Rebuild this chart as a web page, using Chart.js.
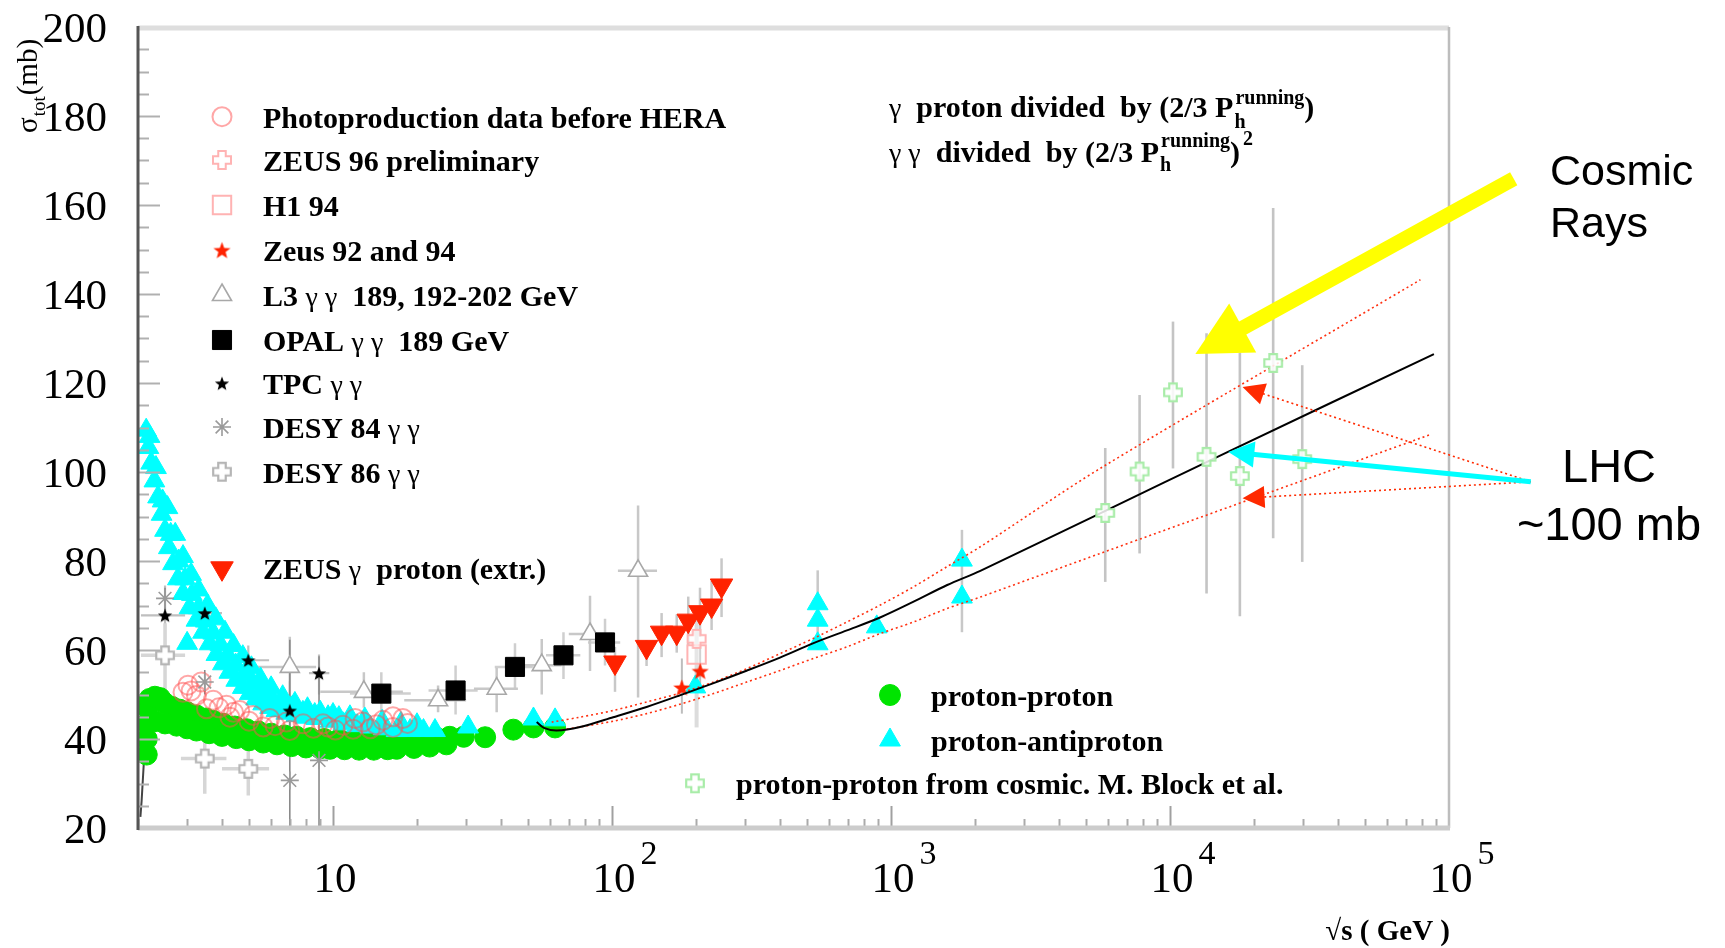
<!DOCTYPE html>
<html><head><meta charset="utf-8">
<script src="https://cdn.jsdelivr.net/npm/chart.js@4.4.1/dist/chart.umd.min.js"></script>
<style>html,body{margin:0;padding:0;background:#fff;}canvas{display:block;}</style>
</head><body>
<canvas id="c" width="1725" height="948"></canvas>
<script>
// ---------------- DATA ----------------
// proton-proton (green)
const ppX = [2.15,2.15,2.15,2.16,2.2,2.3,2.4,2.5,
  2.65,2.82,3.0,3.24,3.5,3.72,4.05,4.45,4.9,5.4,6.0,6.7,7.4,8.3,9.3,10.5,11.8,13.2,14.8,16.6,18.6,20.8,23.3,26.2,29.4,
  2.3,2.5,2.75,3.0,3.24,3.6,4.0,4.5,5.0,5.62,6.3,7.1,8.0,9.0,9.75,11,12.4,14,15.7,16.9,19.5,22.2,25.5,
  35.1,44.3,52.3,62.5];
const ppY = [36.5,40,43.5,47,49,49.5,49.2,48,
  47.2,46.6,46,45.3,44.6,44.1,43.4,42.8,42.2,41.7,41.2,40.8,40.5,40.2,40,39.9,39.9,39.9,40,40.1,40.2,40.3,40.4,40.5,40.5,
  44,43.5,43,42.4,41.9,41.3,40.7,40.2,39.7,39.2,38.8,38.4,38.1,37.9,37.8,37.7,37.6,37.6,37.7,37.8,38,38.3,38.8,
  40.4,42.1,42.6,42.6];
// proton-antiproton (cyan)
const pbarpX = [2.14,2.18,2.23,2.29,2.36,2.43,2.5,2.58,2.67,2.78,2.9,3.06,3.24,3.42,3.61,3.82,4.03,4.25,4.5,4.75,5.03,5.3,5.62,5.95,6.27,6.8,7.39,8.0,8.72,9.8,10.9,12.2,13.6,15.2,16.9,18.9,21.1,23.2,30.5,52.3,62.5,
  2.2,2.32,2.45,2.62,2.8,2.95,3.12,3.3,3.5,3.72,3.95,4.2,4.48,4.8,5.15,5.55,6.0,6.5,7.1,7.8,8.6,9.6,10.5,3.0,
  2.55,2.72,2.9,3.1,3.3,3.55,3.8,4.1,4.4,4.75,5.1,5.5,6.0,6.6,7.3,8.1,9.0,10,11.5,13,15,17.5,20,
  199,546,546,546,889,1796,1796];
const pbarpY = [109.4,105.5,102,98,94.4,90.5,86.9,83,79.4,76,72.7,69.5,66.7,64,61.4,59,56.9,55,53.2,51.6,50.2,49,47.9,47.1,46.4,45.8,45.3,44.9,44.6,44,43.4,43,42.7,42.3,41.9,41.9,41.9,41.9,42.7,44.5,44.3,
  108,101,93.5,86,80,76,72.5,69.5,66.5,63.8,61.2,58.8,56.6,54.5,52.6,51,49.5,48.2,47,46,45.5,45,44.8,61.5,
  92,86,81,77,73.5,70,67,64,61,58.5,56,53.5,51.5,49.5,48,46.8,46,45.5,45,44.5,44,43.5,43.2,
  51.7,70.4,66.7,61.4,65.2,80.2,71.9];
const pbarpYLo = pbarpX.map(()=>null); const pbarpYHi = pbarpX.map(()=>null);
pbarpYLo[pbarpX.length-6]=60; pbarpYHi[pbarpX.length-6]=77.9;
pbarpYLo[pbarpX.length-2]=64; pbarpYHi[pbarpX.length-2]=87;
// Photoproduction data before HERA
const photoX = [3.02,3.37,3.24,3.72,4.15,4.63,5.17,5.93,6.81,7.82,9.21,10.86,12.8,15.1,17.8,3.52,4.27,5.62,7.0,9.6,13.6,2.9,16.4,11.8,
  3.1,3.9,4.4,5.0,6.2,8.5,10.2,12.0,14.3,16.4,18.5];
const photoY = [52.1,52.8,49.8,48.7,47.6,46.4,45.3,44.6,43.8,43.4,43.4,43.1,43.8,44.2,44.6,46.8,44.9,42.7,41.9,42.7,42.3,50.5,42.6,42.2,
  50.8,47,46,44,43,42.4,42,44.6,43.2,45,43.5];
// ZEUS 96 preliminary, H1 94, Zeus 92 and 94
const zeus96X = [201], zeus96Y = [62.5];
const h1X = [201], h1Y = [59], h1YLo = [42.6], h1YHi = [66.7];
const zeus9294X = [178,207], zeus9294Y = [51.6,55.3], zeus9294YLo = [45.7,51], zeus9294YHi = [58.1,61];
// L3 gamma gamma
const l3X = [7.0,12.9,23.8,38.6,56,83.4,124];
const l3Y = [56.2,50.6,48.7,51.3,56.6,63.6,77.8];
const l3YLo = [48,47,46,46,50,55.3,49.3], l3YHi = [63,55,52,56,62.5,72.2,92.5];
const l3XLo = [5.3,9.0,18,32,47,70,105], l3XHi = [8.7,17.8,30,46,66,100,145];
// OPAL gamma gamma 189 GeV
const opalX = [14.9,27.5,44.9,67,94.4], opalY = [50.2,50.9,56.2,58.8,61.7];
const opalYLo = [45.5,45.5,51,53.5,56.5], opalYHi = [55,56.5,61.5,64,67];
const opalXLo = [11.5,22,38,58,82], opalXHi = [19,33,52,77,107];
// TPC gamma gamma
const tpcX = [2.5,3.47,4.97,7.0,8.91], tpcY = [67.8,68.3,57.7,46.4,54.8];
const tpcYLo = [61,66,55,40,50], tpcYHi = [74.5,71,61,53,59];
const tpcXLo = [2.05,2.85,4.0,6.2,8.2], tpcXHi = [2.95,4.0,5.9,7.9,9.7];
// DESY 84 / DESY 86 gamma gamma
const desy84X = [2.5,3.47,7.0,8.91], desy84Y = [71.6,52.8,30.7,35.2];
const desy84YLo = [69,50,20,20], desy84YHi = [74,55.5,62.3,58.6];
const desy86X = [2.5,3.47,4.97], desy86Y = [58.8,35.6,33.3];
const desy86YLo = [50.5,27.7,27.3], desy86YHi = [66,41.2,40.4];
const desy86XLo = [2.05,2.85,4.0], desy86XHi = [2.95,4.15,5.9];
// ZEUS gamma proton (extr.)
const zeusExtX = [102.5,133,150.6,170.6,187.6,206.7,227.5,247];
const zeusExtY = [57.2,60.7,63.9,63.9,66.6,68.5,70,74.5];
const zeusExtYLo = [50.6,56.4,58.4,59.4,61,63,64.5,67.4], zeusExtYHi = [60.7,62.2,68.3,68,72,74,75.5,80.6];
// proton-proton from cosmic rays (M. Block et al.)
const cosmicX = [5860,7780,10250,13520,17800,23430,29780];
const cosmicY = [90.8,100.1,117.9,103.4,99.1,124.5,102.9];
const cosmicYLo = [75.3,81.7,100.8,72.7,67.6,85.1,79.8], cosmicYHi = [105.4,117.3,133.8,131.2,126.8,159.3,124];
// fit curves
const fitX = [53.7,57,63.4,76.8,101,133,175,230,305,400,525,695,914,1200,1590,2090,5620,16200,88300];
const fitY = [43.8,42.5,41.9,42.7,44.9,47.2,49.8,52.5,55.4,58.3,61.5,64.4,67.3,70.8,74.6,77.8,90.7,104.6,126.5];
const upperX = [60.8,76.7,101,133,175,231,304,401,527,695,915,1205,1585,2090,5620,79000];
const upperY = [43.8,44.9,46.4,48.3,50.3,52.8,55.8,59.2,62.6,66.3,70.1,74.2,78.7,83.2,100.8,143.2];
const lowerX = [63.4,76.7,101,133,175,231,304,401,527,695,915,1205,1585,2090,5620,86500];
const lowerY = [41.9,42.7,44.0,45.7,47.8,50.2,52.8,55.4,58.1,60.7,63.7,66.3,69.3,71.9,81.7,108.5];
const lowFitX = [2.04,2.06,2.08,2.1], lowFitY = [22.5,26,30.5,35];
// axis ticks
const yTickValues = [20,40,60,80,100,120,140,160,180,200];
const yTickLabels = ['20','40','60','80','100','120','140','160','180','200'];
const xTickValues = [10,100,1000,10000,100000];
const xTickBase = ['10','10','10','10','10'];
const xTickExp = ['','2','3','4','5'];

// ---------------- helpers ----------------
const SERIF = '"Liberation Serif","Times New Roman",serif';
const SANS = '"Liberation Sans",Arial,sans-serif';
const pts = (xs, ys) => xs.map((x,i)=>({x, y: ys[i]}));
function makeCanvas(size, draw){ const c=document.createElement('canvas'); c.width=size; c.height=size; draw(c.getContext('2d'), size); return c; }
function hollowCross(size, color, lw, fill){
  return makeCanvas(size,(g,s)=>{ const m=s/2, a=s*0.17, r=s/2-lw;
    g.beginPath(); g.moveTo(m-a,m-r); g.lineTo(m+a,m-r); g.lineTo(m+a,m-a); g.lineTo(m+r,m-a); g.lineTo(m+r,m+a);
    g.lineTo(m+a,m+a); g.lineTo(m+a,m+r); g.lineTo(m-a,m+r); g.lineTo(m-a,m+a); g.lineTo(m-r,m+a); g.lineTo(m-r,m-a); g.lineTo(m-a,m-a); g.closePath();
    if(fill){ g.fillStyle=fill; g.fill(); } g.strokeStyle=color; g.lineWidth=lw; g.stroke(); });
}
function star5(size, color){
  return makeCanvas(size,(g,s)=>{ const m=s/2, R=s/2-0.5, r=R*0.42; g.fillStyle=color; g.beginPath();
    for(let k=0;k<10;k++){ const an=-Math.PI/2+k*Math.PI/5, rr=k%2?r:R; g.lineTo(m+rr*Math.cos(an), m+rr*Math.sin(an)+s*0.05); }
    g.closePath(); g.fill(); });
}
const styleZeus96 = hollowCross(22,'#ffb3b3',2,'rgba(255,255,255,0.6)');
const styleDesy86 = hollowCross(22,'#b5b5b5',2.2,'#ffffff');
const styleCosmic = hollowCross(22,'#a8eca8',2.2,'rgba(255,255,255,0.85)');
const styleTPC = star5(16,'#000000');
const styleZstar = star5(19,'#ff2200');

function scatterSet(label, data, o){ return Object.assign({label, data, showLine:false, pointRadius:8, pointHoverRadius:0, pointBorderWidth:1}, o); }
function lineSet(label, data, o){ return Object.assign({label, data, showLine:true, pointRadius:0, pointHoverRadius:0, fill:false, tension:0.3}, o); }

const datasets = [
  scatterSet('proton-proton from cosmic. M. Block et al.', pts(cosmicX,cosmicY), {pointStyle:styleCosmic, order:1,
    errorBars:{yLo:cosmicYLo,yHi:cosmicYHi,color:'#c4c4c4',width:2.6}}),
  lineSet('fit', pts(fitX,fitY), {borderColor:'#000', borderWidth:2, order:2}),
  lineSet('upper', pts(upperX,upperY), {borderColor:'#ff3010', borderWidth:1.6, borderDash:[2,3], order:3}),
  lineSet('lower', pts(lowerX,lowerY), {borderColor:'#ff3010', borderWidth:1.6, borderDash:[2,3], order:4}),
  scatterSet('ZEUS γ  proton (extr.)', pts(zeusExtX,zeusExtY), {pointStyle:'triangle', pointRotation:180, pointRadius:13,
    pointBackgroundColor:'#ff2200', pointBorderColor:'#ff2200', order:5, errorBars:{yLo:zeusExtYLo,yHi:zeusExtYHi,color:'#c8c8c8',width:2.5}}),
  scatterSet('Zeus 92 and 94', pts(zeus9294X,zeus9294Y), {pointStyle:styleZstar, order:6, errorBars:{yLo:zeus9294YLo,yHi:zeus9294YHi,color:'#bdbdbd',width:2}}),
  scatterSet('ZEUS 96 preliminary', pts(zeus96X,zeus96Y), {pointStyle:styleZeus96, order:7}),
  scatterSet('H1 94', pts(h1X,h1Y), {pointStyle:'rect', pointRadius:13, pointBackgroundColor:'rgba(255,255,255,0.3)', pointBorderColor:'#ffb3b3', pointBorderWidth:2, order:8,
    errorBars:{yLo:h1YLo,yHi:h1YHi,color:'#dcdcdc',width:4}}),
  scatterSet('TPC γ γ', pts(tpcX,tpcY), {pointStyle:styleTPC, order:9, errorBars:{yLo:tpcYLo,yHi:tpcYHi,xLo:tpcXLo,xHi:tpcXHi,color:'#bfbfbf',width:2.2}}),
  scatterSet('OPAL γ γ  189 GeV', pts(opalX,opalY), {pointStyle:'rect', pointRadius:13.5, pointBackgroundColor:'#000', pointBorderColor:'#000', order:10,
    errorBars:{yLo:opalYLo,yHi:opalYHi,xLo:opalXLo,xHi:opalXHi,color:'#cfcfcf',width:2.5}}),
  scatterSet('L3 γ γ  189, 192-202 GeV', pts(l3X,l3Y), {pointStyle:'triangle', pointRadius:11, pointBackgroundColor:'#fff', pointBorderColor:'#a8a8a8', pointBorderWidth:1.6, order:11,
    errorBars:{yLo:l3YLo,yHi:l3YHi,xLo:l3XLo,xHi:l3XHi,color:'#c8c8c8',width:2.5}}),
  scatterSet('DESY 84 γ γ', pts(desy84X,desy84Y), {pointStyle:'star', pointRadius:9, pointBorderColor:'#9a9a9a', pointBorderWidth:1.6, order:12,
    errorBars:{yLo:desy84YLo,yHi:desy84YHi,color:'#8a8a8a',width:1.6}}),
  scatterSet('DESY 86 γ γ', pts(desy86X,desy86Y), {pointStyle:styleDesy86, order:13,
    errorBars:{yLo:desy86YLo,yHi:desy86YHi,xLo:desy86XLo,xHi:desy86XHi,color:'#d6d6d6',width:3.5}}),
  scatterSet('Photoproduction data before HERA', pts(photoX,photoY), {pointStyle:'circle', pointRadius:9.5, pointBackgroundColor:'rgba(255,255,255,0)', pointBorderColor:'rgba(255,80,80,0.5)', pointBorderWidth:2, order:14}),
  scatterSet('proton-antiproton', pts(pbarpX,pbarpY), {pointStyle:'triangle', pointRadius:12, pointBackgroundColor:'#00ffff', pointBorderColor:'#00ffff', order:15,
    errorBars:{yLo:pbarpYLo,yHi:pbarpYHi,color:'#c8c8c8',width:2.5}}),
  scatterSet('proton-proton', pts(ppX,ppY), {pointStyle:'circle', pointRadius:10.5, pointBackgroundColor:'#00e400', pointBorderColor:'#00e400', order:16}),
  lineSet('lowfit', pts(lowFitX,lowFitY), {borderColor:'#444', borderWidth:2, order:17, tension:0})
];

// ---------------- plugins ----------------
const errorBarPlugin = {
  id:'errbars',
  beforeDatasetsDraw(chart){
    const {ctx, chartArea:a, scales:{x,y}} = chart;
    ctx.save(); ctx.beginPath(); ctx.rect(a.left,a.top,a.right-a.left,a.bottom-a.top); ctx.clip();
    chart.data.datasets.forEach(ds=>{
      const e = ds.errorBars; if(!e) return;
      ctx.strokeStyle=e.color; ctx.lineWidth=e.width;
      ds.data.forEach((p,i)=>{
        const px=x.getPixelForValue(p.x), py=y.getPixelForValue(p.y);
        ctx.beginPath();
        if(e.yLo && e.yLo[i]!=null){ ctx.moveTo(px,y.getPixelForValue(e.yLo[i])); ctx.lineTo(px,y.getPixelForValue(e.yHi[i])); }
        if(e.xLo && e.xLo[i]!=null){ ctx.moveTo(x.getPixelForValue(e.xLo[i]),py); ctx.lineTo(x.getPixelForValue(e.xHi[i]),py); }
        ctx.stroke();
      });
    });
    ctx.restore();
  }
};

function richText(ctx, text, x, y, size){
  const parts = text.split(/(γ(?: γ)?)/);
  let cx = x;
  for(const p of parts){ if(!p) continue;
    ctx.font = (p[0]==='γ') ? `${size-2}px ${SERIF}` : `bold ${size}px ${SERIF}`;
    ctx.fillText(p, cx, y); cx += ctx.measureText(p).width; }
  return cx;
}
function drawMarker(ctx, ds, x, y){
  ctx.save();
  ctx.fillStyle = ds.pointBackgroundColor || 'rgba(0,0,0,0)';
  ctx.strokeStyle = ds.pointBorderColor || '#000';
  ctx.lineWidth = ds.pointBorderWidth || 1;
  Chart.helpers.drawPoint(ctx, {pointStyle: ds.pointStyle, radius: ds.pointRadius, rotation: ds.pointRotation||0, borderWidth: ds.pointBorderWidth||1}, x, y);
  ctx.restore();
}
function arrow(ctx, x1,y1,x2,y2,o){
  const dx=x2-x1, dy=y2-y1, L=Math.hypot(dx,dy), ux=dx/L, uy=dy/L;
  const bx=x2-ux*o.head, by=y2-uy*o.head;
  ctx.save(); ctx.strokeStyle=o.color; ctx.lineWidth=o.width; ctx.lineCap='butt';
  if(o.dash) ctx.setLineDash(o.dash);
  ctx.beginPath(); ctx.moveTo(x1,y1); ctx.lineTo(bx+ux*2,by+uy*2); ctx.stroke();
  ctx.setLineDash([]); ctx.fillStyle=o.color; ctx.beginPath();
  ctx.moveTo(x2,y2); ctx.lineTo(bx-uy*o.half,by+ux*o.half); ctx.lineTo(bx+uy*o.half,by-ux*o.half); ctx.closePath(); ctx.fill();
  ctx.restore();
}

const axesPlugin = {
  id:'axesDeco',
  afterDatasetsDraw(chart){
    const {ctx, chartArea:a, scales:{x,y}} = chart;
    ctx.save();
    ctx.strokeStyle='#b0b0b0'; ctx.lineWidth=2;
    for(let v=25; v<200; v+=5){ const py=Math.round(y.getPixelForValue(v))+0.5; const len=(v%20===0)?22:11;
      ctx.beginPath(); ctx.moveTo(a.left,py); ctx.lineTo(a.left+len,py); ctx.stroke(); }
    for(let d=0; d<5; d++){ for(let m=1; m<10; m++){ const v=m*Math.pow(10,d); if(v<2||v>1e5) continue;
      const px=Math.round(x.getPixelForValue(v))+0.5; const len=(m===1)?22:9;
      ctx.strokeStyle = (m===1)?'#a0a0a0':'#aaaaaa';
      ctx.beginPath(); ctx.moveTo(px,a.bottom); ctx.lineTo(px,a.bottom-len); ctx.stroke(); } }
    ctx.strokeStyle='#dedede'; ctx.lineWidth=5; ctx.beginPath(); ctx.moveTo(a.left,a.top+1); ctx.lineTo(a.right,a.top+1); ctx.stroke();
    ctx.strokeStyle='#bdbdbd'; ctx.lineWidth=2.5; ctx.beginPath(); ctx.moveTo(a.right,a.top); ctx.lineTo(a.right,a.bottom); ctx.stroke();
    ctx.strokeStyle='#cccccc'; ctx.lineWidth=5; ctx.beginPath(); ctx.moveTo(a.left,a.bottom); ctx.lineTo(a.right+1,a.bottom); ctx.stroke();
    ctx.strokeStyle='#555555'; ctx.lineWidth=3; ctx.beginPath(); ctx.moveTo(a.left,a.top-1); ctx.lineTo(a.left,a.bottom+2); ctx.stroke();
    ctx.fillStyle='#000'; ctx.font=`43px ${SERIF}`; ctx.textAlign='right'; ctx.textBaseline='alphabetic';
    yTickValues.forEach((v,i)=>{ ctx.fillText(yTickLabels[i], 107, y.getPixelForValue(v)+14.5); });
    xTickValues.forEach((v,i)=>{
      const px=x.getPixelForValue(v)+2;
      ctx.font=`43px ${SERIF}`; ctx.textAlign='center'; ctx.fillText(xTickBase[i], px, 892);
      if(xTickExp[i]){ const w=ctx.measureText(xTickBase[i]).width; ctx.font=`34px ${SERIF}`; ctx.textAlign='left'; ctx.fillText(xTickExp[i], px+w/2+5, 864); }
    });
    ctx.textAlign='right'; ctx.font=`bold 29px ${SERIF}`; ctx.fillText('√s ( GeV )', 1450, 940);
    ctx.save(); ctx.translate(37,133); ctx.rotate(-Math.PI/2); ctx.textAlign='left';
    ctx.font=`29px ${SERIF}`; ctx.fillText('σ',0,0); let w=ctx.measureText('σ').width;
    ctx.font=`19px ${SERIF}`; ctx.fillText('tot',w+1,8); w+=ctx.measureText('tot').width+2;
    ctx.font=`29px ${SERIF}`; ctx.fillText('(mb)',w,0);
    ctx.restore();
    ctx.restore();
  },
  afterDraw(chart){
    const {ctx, scales:{x,y}} = chart;
    const byLabel = l => chart.data.datasets.find(d=>d.label===l);
    ctx.save(); ctx.fillStyle='#000'; ctx.textAlign='left'; ctx.textBaseline='alphabetic';
    const left = [['Photoproduction data before HERA',116.7],['ZEUS 96 preliminary',160],['H1 94',205],['Zeus 92 and 94',250],
      ['L3 γ γ  189, 192-202 GeV',295],['OPAL γ γ  189 GeV',340],['TPC γ γ',383.3],['DESY 84 γ γ',427],['DESY 86 γ γ',471.7],['ZEUS γ  proton (extr.)',568.3]];
    left.forEach(([l,ry])=>{ drawMarker(ctx, byLabel(l), 222, ry); ctx.fillStyle='#000'; richText(ctx, l, 263, ry+11, 30); });
    const bottom = [['proton-proton',890,695,931],['proton-antiproton',890,740,931],['proton-proton from cosmic. M. Block et al.',695,783.3,736]];
    bottom.forEach(([l,mx,ry,tx])=>{ drawMarker(ctx, byLabel(l), mx, ry); ctx.fillStyle='#000'; richText(ctx, l, tx, ry+10.5, 30); });
    let cx = richText(ctx, 'γ  proton divided  by (2/3 P', 889, 117, 30);
    ctx.font=`bold 20px ${SERIF}`; ctx.fillText('running', cx+2, 104); ctx.fillText('h', cx+1, 128);
    let sx = cx + 2 + ctx.measureText('running').width;
    ctx.font=`bold 30px ${SERIF}`; ctx.fillText(')', sx, 117);
    cx = richText(ctx, 'γ γ  divided  by (2/3 P', 889, 162, 30);
    ctx.font=`bold 20px ${SERIF}`; ctx.fillText('running', cx+2, 147); ctx.fillText('h', cx+1, 171);
    sx = cx + 2 + ctx.measureText('running').width;
    ctx.font=`bold 30px ${SERIF}`; ctx.fillText(')', sx, 162); sx += ctx.measureText(')').width;
    ctx.font=`bold 20px ${SERIF}`; ctx.fillText('2', sx+3, 145);
    const P = (vx,vy)=>[x.getPixelForValue(vx), y.getPixelForValue(vy)];
    const tail = P(196400,97.8);
    let t = P(18200,119.1); arrow(ctx, tail[0],tail[1], t[0],t[1], {color:'#ff2a00', width:1.6, dash:[2,3], head:22, half:11});
    t = P(18200,94.1); arrow(ctx, tail[0],tail[1], t[0],t[1], {color:'#ff2a00', width:1.6, dash:[2,3], head:22, half:11});
    t = P(16180,104.5); arrow(ctx, tail[0],tail[1], t[0],t[1], {color:'#00ffff', width:5, head:26, half:13});
    const yt = P(170600,165.9), yh = P(12330,126.5);
    arrow(ctx, yt[0],yt[1], yh[0],yh[1], {color:'#ffff00', width:15, head:54, half:28});
    ctx.fillStyle='#000'; ctx.textAlign='left'; ctx.font=`43px ${SANS}`;
    ctx.fillText('Cosmic',1550,185); ctx.fillText('Rays',1550,237);
    ctx.textAlign='center'; ctx.font=`47px ${SANS}`;
    ctx.fillText('LHC',1609,482); ctx.fillText('~100 mb',1609,540);
    ctx.restore();
  }
};

new Chart(document.getElementById('c'), {
  type:'scatter',
  data:{datasets},
  options:{
    responsive:false, animation:false, devicePixelRatio:1, events:[],
    layout:{padding:{left:138, top:27, right:276, bottom:120}},
    scales:{
      x:{type:'logarithmic', min:2, max:100000, display:false},
      y:{type:'linear', min:20, max:200, display:false}
    },
    plugins:{legend:{display:false}, tooltip:{enabled:false}}
  },
  plugins:[errorBarPlugin, axesPlugin]
});
</script>
</body></html>
